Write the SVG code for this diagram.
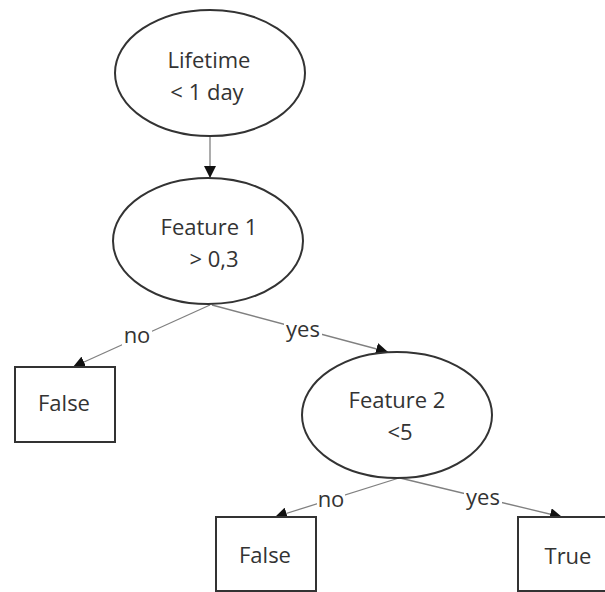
<svg xmlns="http://www.w3.org/2000/svg" width="605" height="592" viewBox="0 0 605 592">
<style>
.n{fill:#fff;stroke:#333;stroke-width:2}
.t{font-family:"Open Sans","Liberation Sans",sans-serif;font-size:22px;fill:#333;text-anchor:middle}
.e{stroke:#808080;stroke-width:1.3;fill:none;marker-end:url(#ah)}
.lb{fill:#fff}
</style>
<defs>
<marker id="ah" markerUnits="userSpaceOnUse" markerWidth="12" markerHeight="12" viewBox="0 0 10 10" refX="10" refY="5" orient="auto">
<path d="M0,0 L10,5 L0,10 z" fill="#111"/>
</marker>
</defs>
<rect width="605" height="592" fill="#fff"/>
<g id="edges">
<line class="e" x1="210" y1="137" x2="210" y2="178"/>
<line class="e" x1="210" y1="305" x2="73" y2="367"/>
<line class="e" x1="212" y1="305" x2="388" y2="352"/>
<line class="e" x1="399" y1="478" x2="275" y2="517"/>
<line class="e" x1="400" y1="478" x2="562" y2="517"/>
<rect class="lb" x="122" y="324" width="30" height="22"/>
<text class="t" x="137" y="343">no</text>
<rect class="lb" x="284" y="320" width="38" height="22"/>
<text class="t" x="303" y="337">yes</text>
<rect class="lb" x="317" y="490" width="28" height="20"/>
<text class="t" x="331" y="507">no</text>
<rect class="lb" x="464" y="488" width="38" height="20"/>
<text class="t" x="483" y="505">yes</text>
</g>
<g id="lifetime">
<ellipse class="n" cx="210" cy="73" rx="95" ry="63"/>
<text class="t" x="209" y="68">Lifetime</text>
<text class="t" x="207" y="100">&lt; 1 day</text>
</g>
<g id="feature1">
<ellipse class="n" cx="208" cy="241" rx="95" ry="63"/>
<text class="t" x="209" y="235">Feature 1</text>
<text class="t" x="214" y="267">&gt; 0,3</text>
</g>
<g id="false1">
<rect class="n" x="15" y="367" width="100" height="75"/>
<text class="t" x="64" y="411">False</text>
</g>
<g id="feature2">
<ellipse class="n" cx="397" cy="415" rx="95" ry="63"/>
<text class="t" x="397" y="408">Feature 2</text>
<text class="t" x="400" y="440">&lt;5</text>
</g>
<g id="false2">
<rect class="n" x="216" y="517" width="100" height="74"/>
<text class="t" x="265" y="563">False</text>
</g>
<g id="true">
<rect class="n" x="518" y="517" width="100" height="74"/>
<text class="t" x="568" y="564">True</text>
</g>
</svg>
